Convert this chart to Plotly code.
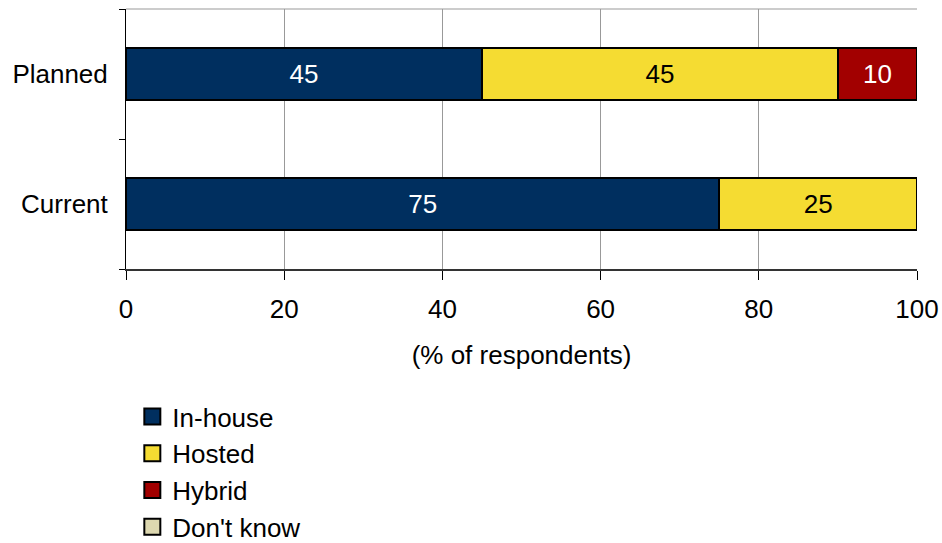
import plotly.graph_objects as go

# Survey responses by deployment model (% of respondents)
periods = ["Current", "Planned"]
in_house = [75, 45]
hosted = [25, 45]
hybrid = [0, 10]
dont_know = [0, 0]

series = [
    ("In-house", in_house, "#002f5f", "white"),
    ("Hosted", hosted, "#f5dc32", "black"),
    ("Hybrid", hybrid, "#a20000", "white"),
    ("Don't know", dont_know, "#ddd8b0", "black"),
]

FONT = "Liberation Sans, Arial, sans-serif"
FS = 26

fig = go.Figure()
for name, vals, color, txtcolor in series:
    fig.add_trace(go.Bar(
        name=name,
        legendgroup=name,
        showlegend=False,
        y=periods,
        x=vals,
        orientation="h",
        marker=dict(color=color, line=dict(color="black", width=2)),
        text=[str(v) if v else "" for v in vals],
        textposition="inside",
        insidetextanchor="middle",
        textfont=dict(color=txtcolor, size=FS, family=FONT),
        hoverinfo="x+name",
    ))

# Legend entries with larger square swatches
for name, vals, color, txtcolor in series:
    fig.add_trace(go.Scatter(
        name=name,
        legendgroup=name,
        x=[None],
        y=[None],
        mode="markers",
        marker=dict(symbol="square", size=17, color=color,
                    line=dict(color="black", width=2)),
        hoverinfo="skip",
    ))

fig.update_layout(
    barmode="stack",
    bargap=0.6,
    width=942,
    height=543,
    margin=dict(l=126, r=25, t=9, b=274, autoexpand=False),
    plot_bgcolor="white",
    paper_bgcolor="white",
    font=dict(family=FONT, size=FS, color="black"),
    uniformtext=dict(mode="show", minsize=FS),
    legend=dict(
        orientation="v",
        traceorder="normal",
        x=0.008,
        xanchor="left",
        y=-0.477,
        yanchor="top",
        font=dict(size=FS, family=FONT),
        itemwidth=30,
        tracegroupgap=0,
    ),
    showlegend=True,
)

fig.update_xaxes(
    range=[0, 100],
    tickvals=[0, 20, 40, 60, 80, 100],
    showgrid=True,
    gridcolor="#999999",
    gridwidth=1,
    showline=True,
    linecolor="#333333",
    linewidth=2,
    ticks="outside",
    ticklen=9,
    tickcolor="black",
    ticklabelstandoff=7,
    automargin=False,
    title=dict(text="(% of respondents)", standoff=23, font=dict(size=FS)),
    zeroline=False,
    tickfont=dict(size=FS),
)

fig.update_yaxes(
    categoryorder="array",
    categoryarray=periods,
    showgrid=False,
    showline=True,
    linecolor="black",
    linewidth=1,
    ticks="outside",
    tickson="boundaries",
    ticklen=6,
    tickcolor="black",
    ticklabelstandoff=12,
    automargin=False,
    tickfont=dict(size=FS),
)

# Light frame on the top edge of the plotting area
fig.add_shape(type="line", xref="paper", yref="paper", x0=0, x1=1, y0=1, y1=1,
              line=dict(color="#999999", width=1))

fig.write_html("out.html")
